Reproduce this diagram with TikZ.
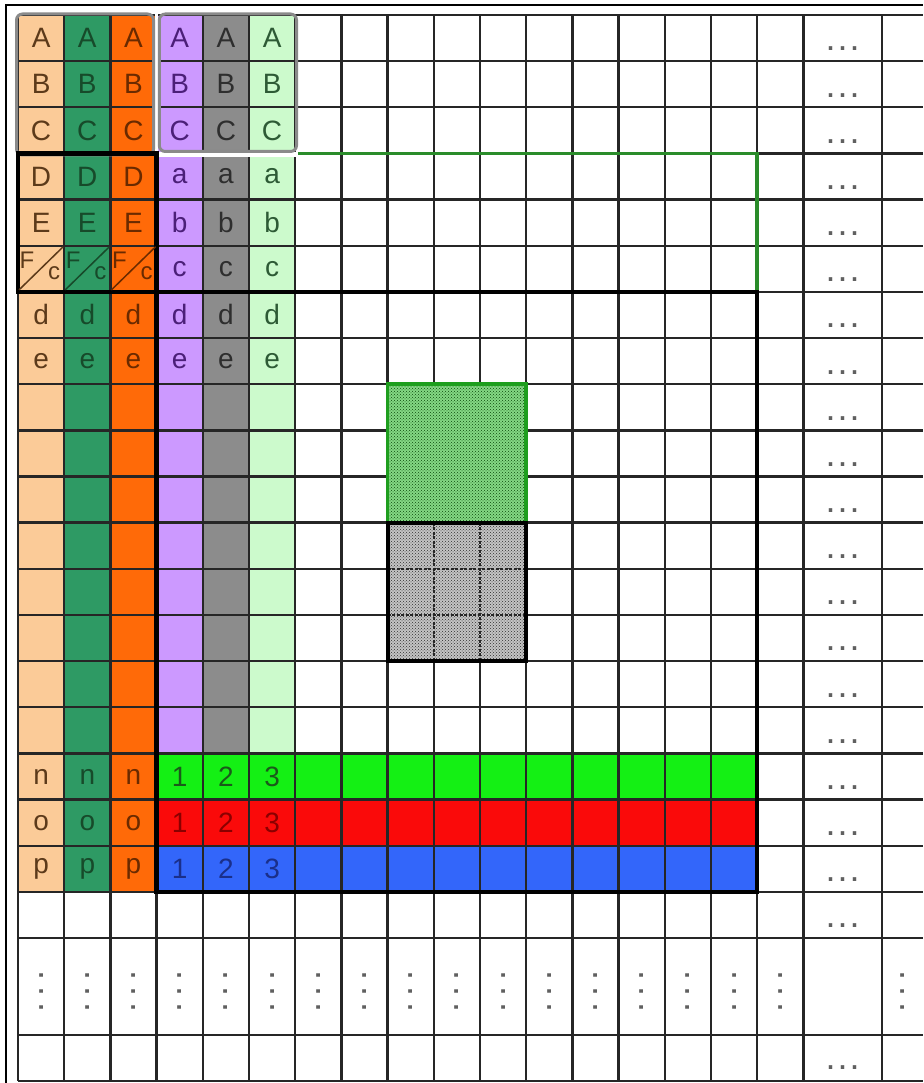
\documentclass[tikz,border=0pt]{standalone}
\usepackage{fontspec}
\setmainfont{Liberation Sans}
\usetikzlibrary{patterns}
\definecolor{peach}{HTML}{FBCB98}
\definecolor{teal}{HTML}{2E9A64}
\definecolor{orng}{HTML}{FF6A08}
\definecolor{lav}{HTML}{CC99FF}
\definecolor{gry}{HTML}{8C8C8C}
\definecolor{lgrn}{HTML}{CCFACC}
\definecolor{rowg}{HTML}{14F014}
\definecolor{rowr}{HTML}{FA0A0A}
\definecolor{rowb}{HTML}{3366FA}
\definecolor{tc0}{HTML}{5C3A1A}
\definecolor{tc1}{HTML}{174A2A}
\definecolor{tc2}{HTML}{6A2A00}
\definecolor{tc3}{HTML}{4B1F78}
\definecolor{tc4}{HTML}{2E2E2E}
\definecolor{tc5}{HTML}{2D5A35}
\definecolor{tg}{HTML}{1A5A1A}
\definecolor{tr}{HTML}{8A0000}
\definecolor{tb}{HTML}{1A2F8A}
\definecolor{bigG}{HTML}{2A8C2A}
\definecolor{patGb}{HTML}{84D884}
\definecolor{patGd}{HTML}{0A4A0A}
\definecolor{patGline}{HTML}{1E9E1E}
\definecolor{patKb}{HTML}{C4C4C4}
\definecolor{patKd}{HTML}{303030}
\definecolor{dotc}{HTML}{606060}
\definecolor{grect}{HTML}{8A8A8A}
\newcommand\gx[1]{\fpeval{18+46.2*(#1)}}
\newcommand\gy[1]{\fpeval{15+46.15*(#1)}}
\newcommand\hdts{.\kern2pt.\kern2pt.}
\newcommand\vdtsx{.\kern6pt.\kern6pt.}
\tikzset{
  gridline/.style={line width=2.4pt, draw=black!85},
  thickbox/.style={line width=4.5pt, draw=black},
  lbl/.style={inner sep=0pt, anchor=center, font=\fontsize{28}{32}\selectfont},
  small/.style={inner sep=0pt, anchor=center, font=\fontsize{24}{28}\selectfont},
  dts/.style={inner sep=0pt, anchor=center, text=dotc, font=\fontsize{36}{40}\selectfont},
  grayrect/.style={line width=3pt, draw=grect, rounded corners=6pt}
}
\begin{document}
\begin{tikzpicture}[x=1pt,y=-1pt]
\useasboundingbox (0,0) rectangle (923,1083);
\fill[white] (0,0) rectangle (923,1083);
% column fills
\foreach \c/\col in {0/peach,1/teal,2/orng}
  \fill[\col] (\gx{\c},\gy{0}) rectangle (\gx{\c+1},\gy{19});
\foreach \c/\col in {3/lav,4/gry,5/lgrn}
  \fill[\col] (\gx{\c},\gy{0}) rectangle (\gx{\c+1},\gy{16});
\fill[rowg] (\gx{3},\gy{16}) rectangle (\gx{16},\gy{17});
\fill[rowr] (\gx{3},\gy{17}) rectangle (\gx{16},\gy{18});
\fill[rowb] (\gx{3},\gy{18}) rectangle (\gx{16},\gy{19});
% grid
\foreach \j in {0,...,20}
  \draw[gridline] (\gx{0},\gy{\j}) -- (923,\gy{\j});
\draw[gridline] (\gx{0},1035) -- (923,1035);
\draw[gridline] (\gx{0},1081) -- (923,1081);
\foreach \i in {0,...,17}
  \draw[gridline] (\gx{\i},\gy{0}) -- (\gx{\i},1081);
\draw[gridline] (882,\gy{0}) -- (882,1081);
% patterned blocks
\fill[patGb] (\gx{8},\gy{8}) rectangle (\gx{11},\gy{11});
\fill[pattern=crosshatch dots, pattern color=patGd] (\gx{8},\gy{8}) rectangle (\gx{11},\gy{11});
\fill[patKb] (\gx{8},\gy{11}) rectangle (\gx{11},\gy{14});
\fill[pattern=crosshatch dots, pattern color=patKd] (\gx{8},\gy{11}) rectangle (\gx{11},\gy{14});
\foreach \i in {9,10}
  \draw[line width=2pt, black!85, dash pattern=on 3pt off 1.5pt] (\gx{\i},\gy{11}) -- (\gx{\i},\gy{14});
\foreach \j in {12,13}
  \draw[line width=2pt, black!85, dash pattern=on 3pt off 1.5pt] (\gx{8},\gy{\j}) -- (\gx{11},\gy{\j});
\draw[line width=3.5pt, draw=patGline] (\gx{8},\gy{8}) rectangle (\gx{11},\gy{11});
\draw[line width=4pt, draw=black] (\gx{8},\gy{11}) rectangle (\gx{11},\gy{14});
% green outline (upper window)
\draw[line width=3.5pt, draw=bigG] (\gx{6}+2,\gy{3}) -- (\gx{16},\gy{3}) -- (\gx{16},\gy{6});
% white gaps and gray rounded frames
\fill[white] (154.5,12) rectangle (157.8,\gy{3});
\fill[white] (157,152.5) rectangle (298,157.5);
\draw[grayrect] (16.5,14) rectangle (153.5,155);
\draw[grayrect] (159.3,14) rectangle (296.5,151.5);
% thick black frames
\draw[thickbox] (\gx{0},\gy{3}) rectangle (\gx{3},\gy{6});
\draw[thickbox] (\gx{3},\gy{6}) rectangle (\gx{16},\gy{19});
% outer frame
\draw[line width=1.2pt, black] (6,1083) -- (6,5) -- (923,5);
% labels
\foreach \r/\L in {0/A,1/B,2/C,6/d,7/e}
  \foreach \c in {0,...,5}
    \node[lbl, text=tc\c] (t\c-\r) at (\gx{\c+0.5},\gy{\r+0.5}) {\L};
\foreach \r/\L in {3/D,4/E,16/n,17/o,18/p}
  \foreach \c in {0,1,2}
    \node[lbl, text=tc\c] (t\c-\r) at (\gx{\c+0.5},\gy{\r+0.5}) {\L};
\foreach \r/\L in {3/a,4/b,5/c}
  \foreach \c in {3,4,5}
    \node[lbl, text=tc\c] (t\c-\r) at (\gx{\c+0.5},\gy{\r+0.5}) {\L};
\foreach \r/\tcol in {16/tg,17/tr,18/tb}
  \foreach \c/\N in {3/1,4/2,5/3}
    \node[lbl, text=\tcol] (t\c-\r) at (\gx{\c+0.5},\gy{\r+0.5}) {\N};
% F/c split cells
\foreach \c in {0,1,2} {
  \draw[tc\c, line width=1.5pt] (\gx{\c}+1,\gy{6}-2) -- (\gx{\c+1}-1,\gy{5}+1);
  \node[small, text=tc\c] (f\c) at (\gx{\c}+9,\gy{5}+14) {F};
  \node[small, text=tc\c] (fc\c) at (\gx{\c+1}-10,\gy{5}+27) {c};
}
% horizontal ellipses
\foreach \r in {0,...,19}
  \node[dts] (h\r) at (842.7,\gy{\r+0.5}+11) {\hdts};
\node[dts] (hlast) at (842.7,1068) {\hdts};
% vertical ellipses
\foreach \c in {0,...,16}
  \node[dts, rotate=90] (v\c) at (\gx{\c+0.5},991.5) {\vdtsx};
\node[dts, rotate=90] (vlast) at (903,991.5) {\vdtsx};
\end{tikzpicture}
\end{document}
